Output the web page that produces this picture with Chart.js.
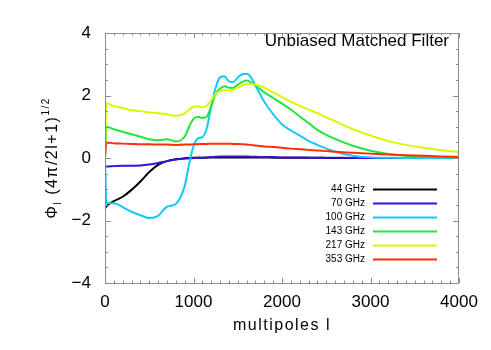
<!DOCTYPE html>
<html>
<head>
<meta charset="utf-8">
<script src="https://cdn.jsdelivr.net/npm/chart.js@4.4.1/dist/chart.umd.min.js"></script>
<style>
  html, body { margin: 0; padding: 0; background: #fff; }
</style>
</head>
<body>
<canvas id="chart-filtro" width="491" height="350"></canvas>
<script>
// multipolos donde se leyeron los valores
const multipoles = [0, 15, 100, 200, 300, 400, 500, 600, 700, 800,
    900, 950, 1000, 1050, 1100, 1150, 1200, 1250, 1300, 1350,
    1400, 1450, 1500, 1550, 1600, 1650, 1700, 1800, 1900, 2000,
    2100, 2200, 2300, 2400, 2500, 2600, 2800, 3000, 3200, 3400,
    3600, 3800, 4000];

// Phi_l (4pi/2l+1)^1/2 por frecuencia
const phi44 = [-1.62, -1.55, -1.38, -1.24, -1.02, -0.75, -0.45, -0.22, -0.10, -0.04,
    -0.01, 0.00, 0.01, 0.01, 0.01, 0.01, 0.02, 0.02, 0.02, 0.02,
    0.02, 0.02, 0.02, 0.02, 0.02, 0.02, 0.02, 0.02, 0.01, 0.01,
    0.01, 0.01, 0.01, 0.01, 0.00, 0.00, 0.00, 0.00, 0.00, 0.00,
    0.00, 0.00, 0.00];
const phi70 = [-0.25, -0.27, -0.26, -0.25, -0.25, -0.24, -0.21, -0.16, -0.10, -0.05,
    -0.02, -0.01, 0.00, 0.01, 0.01, 0.02, 0.03, 0.04, 0.05, 0.05,
    0.05, 0.05, 0.05, 0.05, 0.05, 0.04, 0.04, 0.03, 0.03, 0.02,
    0.02, 0.02, 0.01, 0.01, 0.01, 0.01, 0.00, 0.00, 0.00, 0.00,
    0.00, 0.00, 0.00];
const phi100 = [0.00, -1.45, -1.45, -1.57, -1.72, -1.83, -1.92, -1.85, -1.56, -1.47,
    -0.90, -0.20, 0.38, 0.63, 0.67, 0.95, 1.65, 2.25, 2.58, 2.62,
    2.45, 2.43, 2.58, 2.68, 2.70, 2.58, 2.32, 1.80, 1.40, 1.08,
    0.88, 0.72, 0.55, 0.42, 0.30, 0.20, 0.07, 0.02, 0.01, 0.00,
    0.00, 0.00, 0.00];
const phi143 = [0.00, 1.00, 0.92, 0.84, 0.76, 0.68, 0.60, 0.57, 0.60, 0.53,
    0.68, 1.00, 1.25, 1.32, 1.28, 1.32, 1.65, 2.05, 2.22, 2.30,
    2.25, 2.25, 2.35, 2.43, 2.48, 2.42, 2.32, 2.10, 1.92, 1.74,
    1.55, 1.33, 1.12, 0.90, 0.74, 0.61, 0.39, 0.23, 0.13, 0.07,
    0.04, 0.02, 0.01];
const phi217 = [0.00, 1.75, 1.66, 1.60, 1.53, 1.50, 1.46, 1.43, 1.40, 1.35,
    1.42, 1.55, 1.64, 1.66, 1.62, 1.68, 1.85, 2.05, 2.15, 2.18,
    2.15, 2.18, 2.25, 2.32, 2.37, 2.38, 2.35, 2.25, 2.10, 1.95,
    1.80, 1.67, 1.55, 1.44, 1.30, 1.18, 0.92, 0.72, 0.54, 0.42,
    0.33, 0.25, 0.19];
const phi353 = [0.00, 0.50, 0.47, 0.46, 0.45, 0.44, 0.44, 0.43, 0.43, 0.42,
    0.43, 0.43, 0.44, 0.44, 0.45, 0.45, 0.46, 0.46, 0.46, 0.46,
    0.46, 0.45, 0.45, 0.44, 0.43, 0.42, 0.40, 0.37, 0.35, 0.33,
    0.30, 0.28, 0.26, 0.24, 0.22, 0.20, 0.17, 0.14, 0.11, 0.09,
    0.07, 0.05, 0.04];

const frecuencias = ['44 GHz', '70 GHz', '100 GHz', '143 GHz', '217 GHz', '353 GHz'];
const series = [phi44, phi70, phi100, phi143, phi217, phi353];
const colores = ['#000000', '#3a0fdc', '#14c8ff', '#1ee63c', '#dcf500', '#ff2d0a'];

const FUENTE = "'Liberation Sans', Arial, Helvetica, sans-serif";
Chart.defaults.font.family = FUENTE;
Chart.defaults.color = '#000';

// marco con ticks hacia adentro (como IDL)
const marcoPlugin = {
    id: 'marco',
    afterDraw(chart) {
        const ctx = chart.ctx;
        const a = chart.chartArea;
        const sx = chart.scales.x, sy = chart.scales.y;
        ctx.save();
        ctx.strokeStyle = '#8c8c8c';
        ctx.lineWidth = 1;
        ctx.strokeRect(a.left + 0.5, a.top + 0.5, a.right - a.left - 1, a.bottom - a.top);
        ctx.beginPath();
        for (let l = sx.min; l <= sx.max; l += 100) {
            const px = Math.round(sx.getPixelForValue(l)) + 0.5;
            const largo = (l % 1000 === 0) ? 5 : 2.5;
            ctx.moveTo(px, a.bottom); ctx.lineTo(px, a.bottom - largo);
            ctx.moveTo(px, a.top); ctx.lineTo(px, a.top + largo);
        }
        for (let v = sy.min; v <= sy.max; v += 0.5) {
            const py = Math.round(sy.getPixelForValue(v)) + 0.5;
            const largo = (v % 2 === 0) ? 6 : 3;
            ctx.moveTo(a.left, py); ctx.lineTo(a.left + largo, py);
            ctx.moveTo(a.right, py); ctx.lineTo(a.right - largo, py);
        }
        ctx.stroke();
        ctx.restore();
    }
};

// textos: titulos de ejes, rotulo y leyenda
const textosPlugin = {
    id: 'textos',
    afterDraw(chart) {
        const ctx = chart.ctx;
        const a = chart.chartArea;
        ctx.save();
        ctx.fillStyle = '#000';

        // rotulo arriba a la derecha
        ctx.font = '17px ' + FUENTE;
        ctx.textAlign = 'right';
        ctx.textBaseline = 'alphabetic';
        ctx.fillText('Unbiased Matched Filter', a.right - 10, a.top + 13);

        // titulo eje x
        ctx.font = '16px ' + FUENTE;
        ctx.letterSpacing = '1.5px';
        ctx.textAlign = 'center';
        ctx.fillText('multipoles l', (a.left + a.right) / 2, 330);

        // titulo eje y: Phi_l (4pi/2l+1)^(1/2)
        const partes = [
            { t: 'Φ', f: 16, dy: 0 },
            { t: 'l', f: 10, dy: 4 },
            { t: ' (4π/2l+1)', f: 16, dy: 0 },
            { t: '1/2', f: 10, dy: -8 }
        ];
        let total = 0;
        partes.forEach(p => { ctx.font = p.f + 'px ' + FUENTE; p.w = ctx.measureText(p.t).width; total += p.w; });
        ctx.translate(57, (a.top + a.bottom) / 2);
        ctx.rotate(-Math.PI / 2);
        ctx.textAlign = 'left';
        let x = -total / 2;
        partes.forEach(p => {
            ctx.font = p.f + 'px ' + FUENTE;
            ctx.fillText(p.t, x, p.dy);
            x += p.w;
        });
        ctx.restore();

        // leyenda abajo a la derecha
        ctx.save();
        ctx.font = '10px ' + FUENTE;
        ctx.textAlign = 'right';
        ctx.textBaseline = 'middle';
        ctx.lineWidth = 2;
        chart.data.datasets.forEach((ds, i) => {
            const y = 189.5 + i * 14;
            ctx.fillStyle = '#000';
            ctx.fillText(ds.label, a.right - 94, y);
            ctx.strokeStyle = ds.borderColor;
            ctx.beginPath();
            ctx.moveTo(a.right - 86, y);
            ctx.lineTo(a.right - 22, y);
            ctx.stroke();
        });
        ctx.restore();
    }
};

const datasets = series.map((valores, i) => ({
    label: frecuencias[i],
    data: multipoles.map((l, j) => ({ x: l, y: valores[j] })),
    borderColor: colores[i],
    borderWidth: 2,
    pointRadius: 0,
    cubicInterpolationMode: 'monotone',
    order: series.length - i
}));

new Chart(document.getElementById('chart-filtro'), {
    type: 'line',
    data: { datasets: datasets },
    options: {
        responsive: false,
        animation: false,
        devicePixelRatio: 1,
        layout: { padding: { top: 33, right: 32, left: 0, bottom: 0 } },
        plugins: { legend: { display: false }, tooltip: { enabled: false } },
        scales: {
            x: {
                type: 'linear',
                min: 0,
                max: 4000,
                grid: { display: false },
                border: { display: false },
                ticks: {
                    stepSize: 1000,
                    padding: 1,
                    maxRotation: 0,
                    font: { size: 17 },
                    callback: v => String(v)
                },
                afterFit: s => { s.height = 67; }
            },
            y: {
                min: -4,
                max: 4,
                grid: { display: false },
                border: { display: false },
                ticks: {
                    stepSize: 2,
                    padding: 6,
                    font: { size: 17 },
                    callback: v => v < 0 ? '−' + Math.abs(v) : String(v)
                },
                afterFit: s => { s.width = 105; }
            }
        }
    },
    plugins: [marcoPlugin, textosPlugin]
});
</script>
</body>
</html>
